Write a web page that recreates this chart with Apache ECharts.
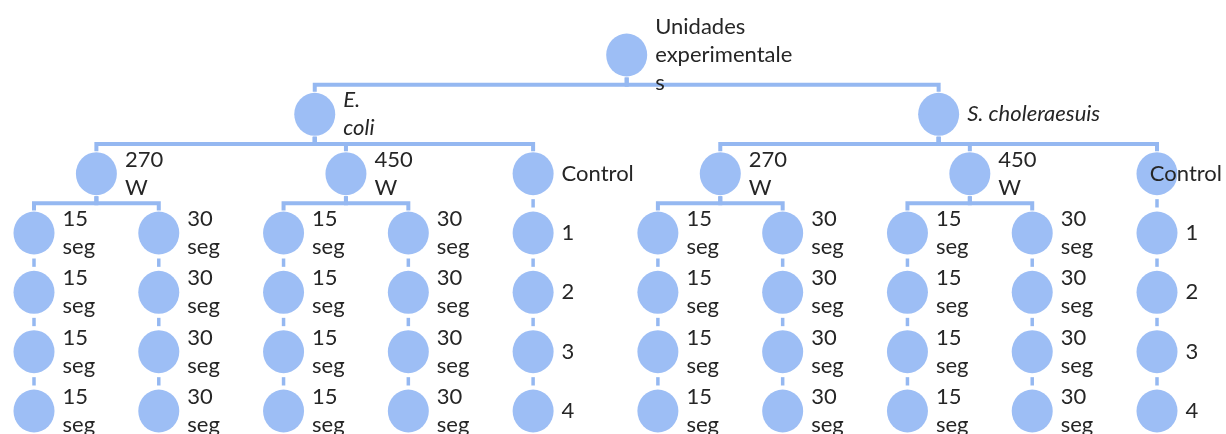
<!DOCTYPE html>
<html><head><meta charset="utf-8">
<script src="https://cdn.jsdelivr.net/npm/echarts@6/dist/echarts.min.js"></script>
<style>html,body{margin:0;padding:0;background:#fff}#c{width:1226px;height:434px}</style>
</head><body><div id="c"></div>
<script>
// ---- data: the hierarchy of experimental units ----
const rootLabel = 'Unidades\nexperimentale\ns';
const organisms = ['E.\ncoli', 'S. choleraesuis'];
const treatments = ['270\nW', '450\nW', 'Control'];
const times = ['15\nseg', '30\nseg'];
const replicates = ['1', '2', '3', '4'];
const repetitions = 4;

// ---- build tree ----
function makeNode(label, italic) { return { label: label, italic: !!italic, children: [] }; }
const root = makeNode(rootLabel);
organisms.forEach(function (o) {
  const on = makeNode(o, true);
  root.children.push(on);
  treatments.forEach(function (t) {
    const tn = makeNode(t);
    on.children.push(tn);
    const chains = t === 'Control' ? [replicates] : times.map(function (s) { return new Array(repetitions).fill(s); });
    chains.forEach(function (chain) {
      let prev = tn;
      chain.forEach(function (lbl) { const n = makeNode(lbl); prev.children.push(n); prev = n; });
    });
  });
});

// ---- tidy layout: leaves get consecutive columns, parents centered over children ----
let col = 0, maxDepth = 0;
function layout(n, depth) {
  n.depth = depth; maxDepth = Math.max(maxDepth, depth);
  if (!n.children.length) { n.x = col++; return; }
  n.children.forEach(function (c) { layout(c, depth + 1); });
  n.x = (n.children[0].x + n.children[n.children.length - 1].x) / 2;
}
layout(root, 0);
const allNodes = [], parents = [];
(function walk(n) { allNodes.push(n); if (n.children.length) parents.push(n); n.children.forEach(walk); })(root);

const NODE = '#9dbef5', LINE = '#95b8f1', TEXT = '#262626';
const W = 1226;
const halfH = 21.5;

const chart = echarts.init(document.getElementById('c'), null, { renderer: 'canvas' });
chart.setOption({
  backgroundColor: '#ffffff',
  animation: false,
  grid: { left: 34, right: 69, top: 55, bottom: 23 },
  xAxis: { type: 'value', min: 0, max: col - 1, show: false },
  yAxis: { type: 'value', min: 0, max: maxDepth, inverse: true, show: false },
  series: [
    {
      type: 'custom',
      z: 1,
      silent: true,
      data: parents.map(function (p) { return [p.x, p.depth]; }),
      encode: { x: 0, y: 1 },
      renderItem: function (params, api) {
        const n = parents[params.dataIndex];
        const P = api.coord([n.x, n.depth]);
        const kids = n.children.map(function (c) { return api.coord([c.x, c.depth]); });
        const style = { stroke: LINE, lineWidth: 4, fill: null, lineJoin: 'miter' };
        if (kids.length === 1 && Math.abs(kids[0][0] - P[0]) < 0.5) {
          return { type: 'line', shape: { x1: P[0], y1: P[1] + halfH + 4, x2: P[0], y2: kids[0][1] - halfH - 4 }, style: { stroke: LINE, lineWidth: 3.5 } };
        }
        const ym = (P[1] + kids[0][1]) / 2;
        return {
          type: 'group',
          children: kids.map(function (k) {
            return { type: 'polyline', shape: { points: [[P[0], P[1] + halfH + 1], [P[0], ym], [k[0], ym], [k[0], k[1] - halfH - 1]] }, style: style };
          })
        };
      }
    },
    {
      type: 'scatter',
      z: 2,
      symbol: 'path://M50,0A50,50 0 1,1 50,100A50,50 0 1,1 50,0Z',
      symbolSize: [41, 43],
      itemStyle: { color: NODE, opacity: 1 },
      data: allNodes.map(function (n) {
        return {
          value: [n.x, n.depth],
          name: n.label,
          label: { fontStyle: n.italic ? 'italic' : 'normal' }
        };
      }),
      label: {
        show: true,
        position: 'right',
        distance: 8,
        formatter: function (p) { return p.name; },
        fontFamily: 'Lato',
        fontSize: 22,
        lineHeight: 28,
        color: TEXT
      },
      labelLayout: function (params) {
        const r = params.labelRect;
        const over = r.x + r.width - (W - 4);
        return over > 0 ? { dx: -over } : {};
      }
    }
  ]
});
</script>
</body></html>
